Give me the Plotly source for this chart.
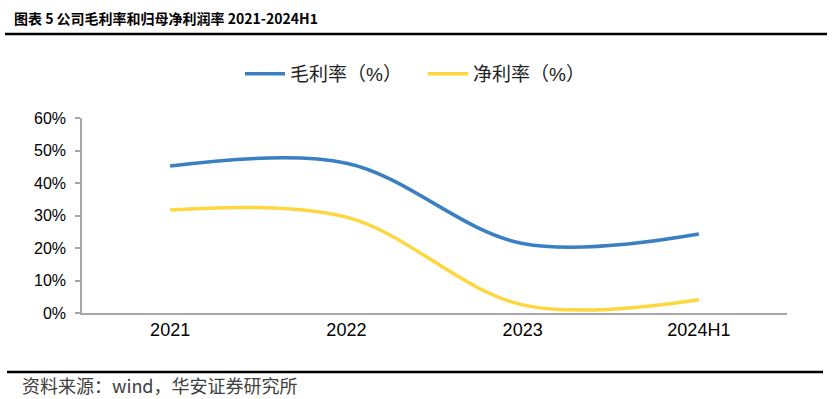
import plotly.graph_objects as go

categories = ["2021", "2022", "2023", "2024H1"]
gross_margin = [0.452, 0.461, 0.214, 0.243]
net_margin = [0.317, 0.295, 0.025, 0.041]
y_ticks = [0, 0.1, 0.2, 0.3, 0.4, 0.5, 0.6]
y_tick_labels = ["0%", "10%", "20%", "30%", "40%", "50%", "60%"]

W, H = 835, 399
L, R, T, B = 82, 787, 118, 313

def px(x):
    return (x - L) / (R - L)

def py(y):
    return (B - y) / (B - T)

fig = go.Figure()
fig.add_trace(go.Scatter(
    x=categories, y=gross_margin, name="毛利率（%）", mode="lines",
    line=dict(color="#3a7fc2", width=3.5, shape="spline", smoothing=1.0),
))
fig.add_trace(go.Scatter(
    x=categories, y=net_margin, name="净利率（%）", mode="lines",
    line=dict(color="#fdd73d", width=3.5, shape="spline", smoothing=1.0),
))

fig.update_layout(
    width=W, height=H,
    margin=dict(l=L, r=W - R, t=T, b=H - B),
    paper_bgcolor="white", plot_bgcolor="white",
    font=dict(family="Liberation Sans, Arial, Noto Sans CJK SC", size=16, color="#000000"),
    showlegend=True,
    legend=dict(
        orientation="h", x=px(240), xanchor="left", y=py(74), yanchor="middle",
        font=dict(family="Liberation Sans, Noto Sans CJK SC", size=19, color="#222222"),
        itemwidth=40, entrywidth=128, entrywidthmode="pixels", bgcolor="rgba(0,0,0,0)",
    ),
    xaxis=dict(
        type="category", range=[-0.5, 3.5], showgrid=False, zeroline=False,
        showline=True, linecolor="#a6a6a6", linewidth=1.5, ticks="",
        tickfont=dict(size=18, color="#000000"),
    ),
    yaxis=dict(
        range=[0, 0.6], tickvals=y_ticks, ticktext=y_tick_labels,
        showgrid=False, zeroline=False, showline=True, linecolor="#a6a6a6",
        linewidth=1.5, ticks="outside", ticklen=5, tickcolor="#a6a6a6",
        tickwidth=1.5, tickfont=dict(size=16, color="#000000"), ticklabelstandoff=6,
    ),
    shapes=[
        dict(type="line", xref="paper", yref="paper", x0=px(5), x1=px(827),
             y0=py(34), y1=py(34), line=dict(color="black", width=2.5)),
        dict(type="line", xref="paper", yref="paper", x0=px(7), x1=px(823),
             y0=py(372), y1=py(372), line=dict(color="black", width=2.5)),
    ],
    annotations=[
        dict(text="<b>图表 5 公司毛利率和归母净利润率 2021-2024H1</b>", xref="paper", yref="paper",
             x=px(12), y=py(18), xanchor="left", yanchor="middle", showarrow=False,
             font=dict(family="Noto Sans CJK SC, Liberation Sans", size=14, color="#000000")),
        dict(text="资料来源：wind，华安证券研究所", xref="paper", yref="paper",
             x=px(20), y=py(385), xanchor="left", yanchor="middle", showarrow=False,
             font=dict(family="Noto Sans CJK SC, Liberation Sans", size=18, color="#404040")),
    ],
)

fig.write_html("out.html", config={"displayModeBar": False},
               post_script="document.body.style.margin='0';document.body.style.overflow='hidden';")
